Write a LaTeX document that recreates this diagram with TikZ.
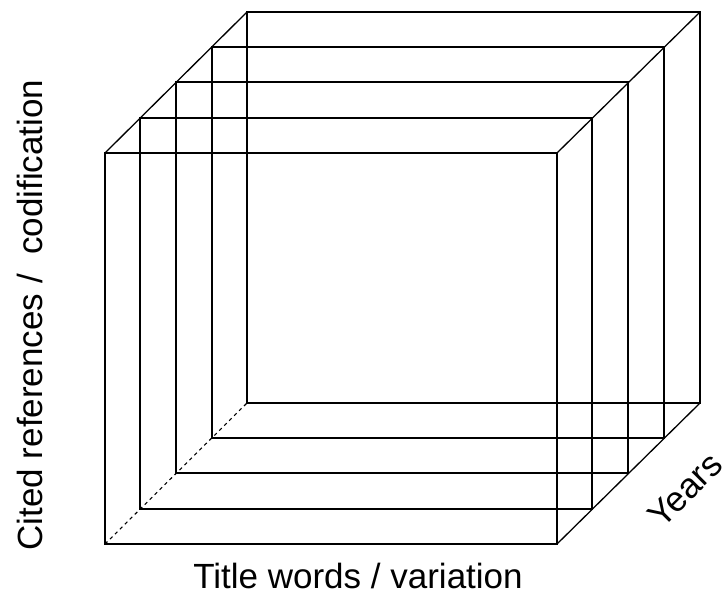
\documentclass[tikz,border=0pt]{standalone}
\usepackage{fontspec}
\setmainfont{Liberation Sans}
\usepackage{tikz}
\usetikzlibrary{positioning}

\begin{document}
\begin{tikzpicture}[
    x=1pt, y=-1pt,
    edge/.style={draw, line width=1.3pt, line join=miter},
    hidden/.style={draw, line width=1.1pt, dash pattern=on 3.5pt off 3.5pt},
    axislabel/.style={font=\fontsize{35}{40}\selectfont, inner sep=0pt},
]
\useasboundingbox (0,0) rectangle (727,596);

% Slices of the cube, front to back (left/top/right/bottom)
\foreach \l/\t/\r/\b in {105/153/557/544, 140/118/592/509, 176/82/628/473, 212/47/664/438, 247/12/700/403}
  \draw[edge] (\l,\t) rectangle (\r,\b);

% Corner edges
\coordinate (ftl) at (105,153);
\coordinate (ftr) at (557,153);
\coordinate (fbl) at (105,544);
\coordinate (fbr) at (557,544);
\coordinate (btl) at (247,12);
\coordinate (btr) at (700,12);
\coordinate (bbl) at (247,403);
\coordinate (bbr) at (700,403);
\draw[edge] (ftl) -- (btl);
\draw[edge] (ftr) -- (btr);
\draw[edge] (fbr) -- (bbr);
\draw[hidden] (fbl) -- (bbl);

% Axis labels
\node[axislabel, anchor=base] (xlab) at (358,588) {Title words / variation};
\node[axislabel, anchor=base, rotate=90] (ylab) at (42,315) {Cited references /\ \ codification};
\node[axislabel, rotate=45] (zlab) at (685,490) {Years};
\end{tikzpicture}
\end{document}
